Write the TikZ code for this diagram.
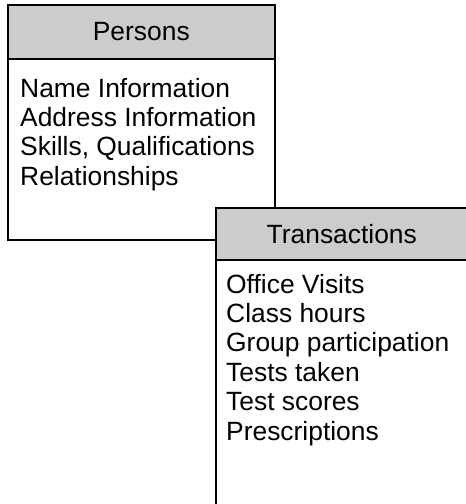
\documentclass[tikz,border=0pt]{standalone}
\usepackage{fontspec}
\setmainfont{Liberation Sans}
\definecolor{hdrgray}{RGB}{204,204,204}
\begin{document}
\begin{tikzpicture}[x=1pt,y=-1pt,
  boxframe/.style={draw=black, line width=1.6pt, fill=white, rectangle, inner sep=0pt, anchor=north west},
  hdrbox/.style={draw=black, line width=1.6pt, fill=hdrgray, rectangle, inner sep=0pt, anchor=north west,
     font=\fontsize{26.4}{29.4}\selectfont},
  bodytext/.style={anchor=base west, inner sep=0pt, align=left, font=\fontsize{26.4}{29.4}\selectfont}]
\clip (0,0) rectangle (466,504);
% Persons
\node[boxframe, minimum width=267pt, minimum height=235pt] (persons) at (7,4) {};
\node[hdrbox, minimum width=267pt, minimum height=54pt] (personshdr) at (7,4) {Persons};
\node[bodytext] (personsbody) at (20,185.2) {Name Information\\Address Information\\Skills, Qualifications\\Relationships};
% Transactions
\node[boxframe, minimum width=255pt, minimum height=302pt] (trans) at (215,207) {};
\node[hdrbox, minimum width=255pt, minimum height=52pt] (transhdr) at (215,207) {\hspace*{-3pt}Transactions};
\node[bodytext] (transbody) at (226,440) {Office Visits\\Class hours\\Group participation\\Tests taken\\Test scores\\Prescriptions};
\end{tikzpicture}
\end{document}
